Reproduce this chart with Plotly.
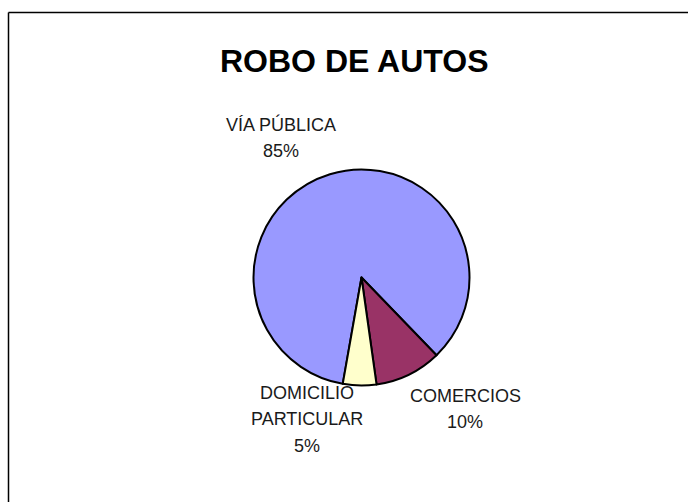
import plotly.graph_objects as go

# Car theft by location
categories = ["VÍA PÚBLICA", "COMERCIOS", "DOMICILIO PARTICULAR"]
percentages = [85, 10, 5]
label_lines = [["VÍA PÚBLICA"], ["COMERCIOS"], ["DOMICILIO", "PARTICULAR"]]
slice_colors = ["#9999FF", "#993366", "#FFFFCC"]

W, H = 688, 502
cx, cy, r = 361.5, 277.5, 108

fig = go.Figure(
    go.Pie(
        labels=categories,
        values=percentages,
        sort=False,
        direction="clockwise",
        rotation=190,
        textinfo="none",
        hoverinfo="label+percent",
        marker=dict(colors=slice_colors, line=dict(color="black", width=2)),
        domain=dict(
            x=[(cx - r) / W, (cx + r) / W],
            y=[1 - (cy + r) / H, 1 - (cy - r) / H],
        ),
        showlegend=False,
    )
)

# outside labels: one annotation per text line, fixed line pitch
label_font = dict(family="Liberation Sans, Arial", size=18, color="#1a1a1a")
label_anchor = [(281, 124.5), (465, 395.5), (307, 392.5)]
line_pitch = 26.5
for lines, pct, (lx, ly) in zip(label_lines, percentages, label_anchor):
    for i, line in enumerate(lines + [f"{pct}%"]):
        fig.add_annotation(
            text=line,
            x=lx / W, y=1 - (ly + i * line_pitch) / H,
            xref="paper", yref="paper",
            xanchor="center", yanchor="middle", showarrow=False,
            font=label_font,
        )

fig.add_annotation(
    text="<b>ROBO DE AUTOS</b>",
    x=354 / W, y=1 - 61 / H, xref="paper", yref="paper",
    xanchor="center", yanchor="middle", showarrow=False,
    font=dict(family="Liberation Sans, Arial", size=32, color="black"),
)

# chart-area frame (top and left edges)
fig.add_shape(type="line", xref="paper", yref="paper",
              x0=8.5 / W, x1=1.01, y0=1 - 12.5 / H, y1=1 - 12.5 / H,
              line=dict(color="black", width=1.5))
fig.add_shape(type="line", xref="paper", yref="paper",
              x0=8.5 / W, x1=8.5 / W, y0=1 - 12.5 / H, y1=-0.01,
              line=dict(color="black", width=1.5))

fig.update_layout(
    width=W, height=H,
    margin=dict(l=0, r=0, t=0, b=0),
    paper_bgcolor="white", plot_bgcolor="white",
)

fig.write_html("out.html")
